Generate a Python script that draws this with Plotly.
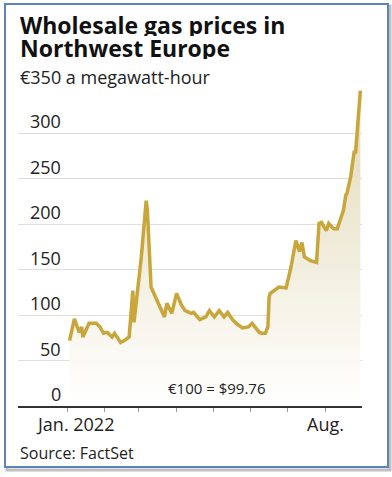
import plotly.graph_objects as go

dates = [
    "2022-01-03", "2022-01-07", "2022-01-11", "2022-01-13", "2022-01-14", "2022-01-19",
    "2022-01-25", "2022-01-28", "2022-01-31", "2022-02-03", "2022-02-07", "2022-02-09",
    "2022-02-14", "2022-02-17", "2022-02-21", "2022-02-24", "2022-02-25", "2022-02-28",
    "2022-03-03", "2022-03-07", "2022-03-08", "2022-03-11", "2022-03-16", "2022-03-21",
    "2022-03-22", "2022-03-24", "2022-03-28", "2022-04-01", "2022-04-05", "2022-04-08",
    "2022-04-13", "2022-04-15", "2022-04-20", "2022-04-25", "2022-04-28", "2022-05-02",
    "2022-05-06", "2022-05-10", "2022-05-13", "2022-05-17", "2022-05-20", "2022-05-25",
    "2022-05-30", "2022-06-02", "2022-06-06", "2022-06-08", "2022-06-10", "2022-06-13",
    "2022-06-14", "2022-06-15", "2022-06-16", "2022-06-17", "2022-06-24", "2022-06-30",
    "2022-07-04", "2022-07-08", "2022-07-11", "2022-07-13", "2022-07-15", "2022-07-20",
    "2022-07-25", "2022-07-27", "2022-07-29", "2022-08-02", "2022-08-04", "2022-08-08",
    "2022-08-11", "2022-08-15", "2022-08-16", "2022-08-18", "2022-08-19", "2022-08-22",
    "2022-08-25", "2022-08-26", "2022-08-30",
]
prices = [
    72, 96, 81, 87, 76, 91,
    91, 87, 80, 81, 76, 80,
    70, 72, 76, 127, 92, 127,
    164, 226, 215, 131, 116, 103,
    98, 113, 102, 124, 111, 105,
    102, 103, 95, 98, 105, 98,
    105, 98, 103, 95, 91, 86,
    87, 91, 84, 81, 80, 80,
    84, 87, 120, 124, 131, 130,
    153, 182, 170, 180, 164, 160,
    158, 201, 202, 193, 201, 195,
    195, 212, 215, 232, 234, 252,
    281, 278, 347,
]

y_ticks = [0, 50, 100, 150, 200, 250, 300, 350]
y_labels = ["0", "50", "100", "150", "200", "250", "300"]
month_ticks = ["2022-01-01", "2022-02-01", "2022-03-01", "2022-04-01",
               "2022-05-01", "2022-06-01", "2022-07-01", "2022-08-01"]
x_label_jan = "Jan. 2022"
x_label_aug = "Aug."

title_1 = "Wholesale gas prices in"
title_2 = "Northwest Europe"
subtitle = "€350 a megawatt-hour"
note = "€100 = $99.76"
source = "Source: FactSet"

W, H = 392, 477
ML, MR, MT, MB = 18, 30, 88, 71
PW, PH = W - ML - MR, H - MT - MB


def px(x):
    return (x - ML) / PW


def py(y):
    return (H - MB - y) / PH


FONT = "Open Sans"
TXT = "#222222"
LINE = "#c8a63a"

fig = go.Figure()
fig.add_trace(go.Scatter(
    x=dates, y=prices, mode="lines",
    line=dict(color=LINE, width=3.5),
    fill="tozeroy",
    fillgradient=dict(type="vertical",
                      colorscale=[[0, "rgba(255,255,255,1)"], [1, "rgb(226,217,182)"]],
                      start=0, stop=350),
    cliponaxis=False,
    hoverinfo="skip",
))

annotations = []
for v, lab in zip(y_ticks, y_labels):
    annotations.append(dict(
        x=px(63), xref="paper", xanchor="right",
        y=v, yref="y", yanchor="bottom", yshift=-2,
        text=lab, showarrow=False,
        font=dict(family=FONT, size=18, color=TXT),
    ))

annotations += [
    dict(x=month_ticks[0], xref="x", xanchor="left", xshift=-33,
         y=py(424), yref="paper", yanchor="middle",
         text=x_label_jan, showarrow=False,
         font=dict(family=FONT, size=18, color=TXT)),
    dict(x=month_ticks[-1], xref="x", xanchor="center",
         y=py(424), yref="paper", yanchor="middle",
         text=x_label_aug, showarrow=False,
         font=dict(family=FONT, size=18, color=TXT)),
    dict(x=px(18), xref="paper", xanchor="left", y=py(25), yref="paper", yanchor="middle",
         text="<b>" + title_1 + "</b>", showarrow=False, height=22,
         font=dict(family=FONT, size=23, color="#111111")),
    dict(x=px(18), xref="paper", xanchor="left", y=py(48), yref="paper", yanchor="middle",
         text="<b>" + title_2 + "</b>", showarrow=False, height=22,
         font=dict(family=FONT, size=23, color="#111111")),
    dict(x=px(18), xref="paper", xanchor="left", y=py(77), yref="paper", yanchor="middle",
         text=subtitle, showarrow=False,
         font=dict(family=FONT, size=18, color=TXT)),
    dict(x=px(217), xref="paper", xanchor="center", y=py(388), yref="paper", yanchor="middle",
         text=note, showarrow=False,
         font=dict(family=FONT, size=15, color=TXT)),
    dict(x=px(18), xref="paper", xanchor="left", y=py(453), yref="paper", yanchor="middle",
         text=source, showarrow=False,
         font=dict(family=FONT, size=16, color=TXT)),
]

shapes = [
    dict(type="rect", xref="paper", yref="paper", layer="below",
         x0=px(7), x1=px(390), y0=py(6), y1=py(470),
         line=dict(color="rgba(140,140,140,0.55)", width=3), fillcolor="rgba(0,0,0,0)"),
    dict(type="rect", xref="paper", yref="paper", layer="below",
         x0=px(5), x1=px(388), y0=py(4), y1=py(467),
         line=dict(color="#5a84c0", width=2), fillcolor="white"),
]

fig.update_layout(
    width=W, height=H,
    margin=dict(l=ML, r=MR, t=MT, b=MB),
    paper_bgcolor="white", plot_bgcolor="rgba(0,0,0,0)",
    showlegend=False,
    annotations=annotations,
    shapes=shapes,
    font=dict(family=FONT, color=TXT),
    xaxis=dict(
        type="date",
        range=["2021-11-21 16:00", "2022-08-31 08:00"],
        tickvals=month_ticks, ticktext=[""] * len(month_ticks),
        ticks="outside", ticklen=4, tickwidth=1, tickcolor="#999999",
        showline=True, linecolor="#333333", linewidth=2,
        showgrid=False, zeroline=False, fixedrange=True,
    ),
    yaxis=dict(
        range=[0, 350], tickvals=y_ticks, showticklabels=False,
        showgrid=True, gridcolor="#dedede", gridwidth=1,
        zeroline=False, showline=False, ticks="", fixedrange=True,
    ),
)

fig.write_html(
    "out.html",
    config={"displayModeBar": False},
    post_script="document.body.style.margin='0';document.body.style.overflow='hidden';",
)
